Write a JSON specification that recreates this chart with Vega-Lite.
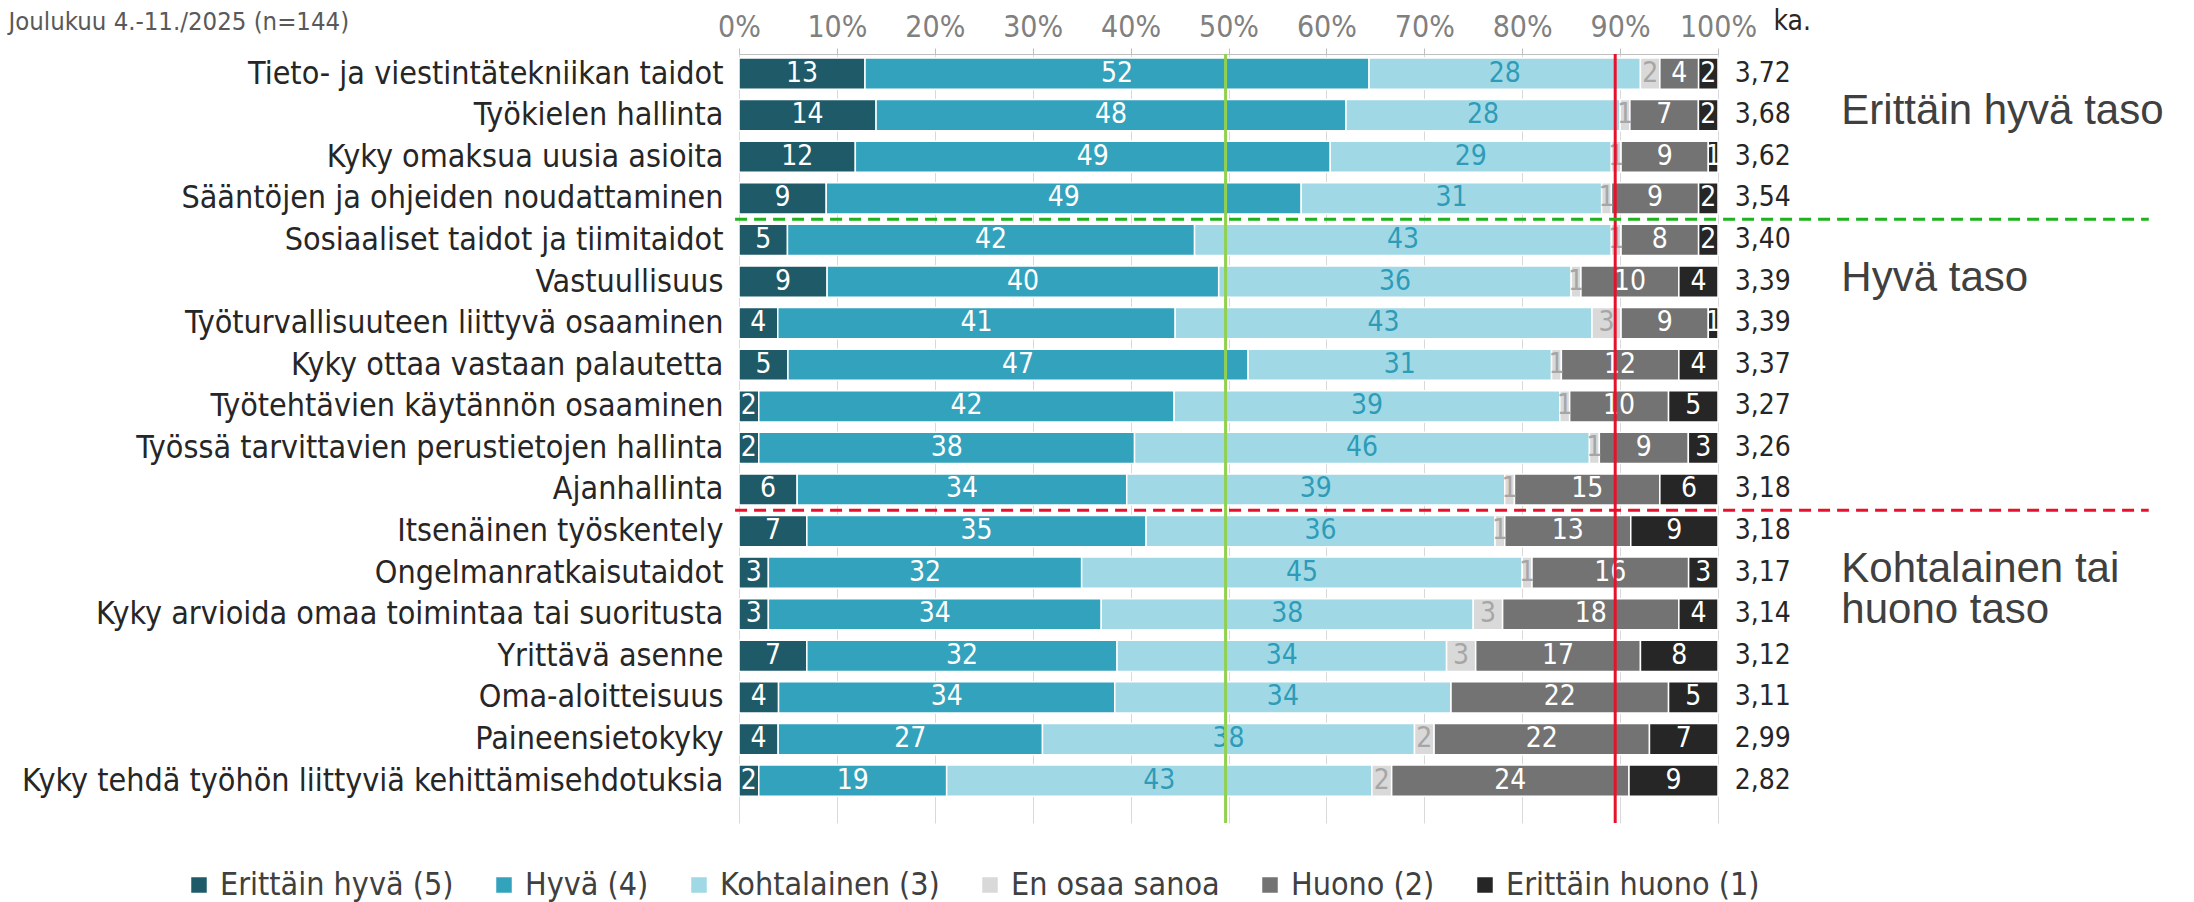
{
  "$schema": "https://vega.github.io/schema/vega-lite/v6.json",
  "width": 979,
  "height": 769,
  "autosize": {"type": "none"},
  "padding": {"left": 739, "top": 54, "right": 476, "bottom": 79},
  "background": "white",
  "config": {"view": {"stroke": null}, "font": "DejaVu Sans Condensed, DejaVu Sans"},
  "datasets": {
    "vastaukset": [
      {"taito": "Tieto- ja viestintätekniikan taidot", "vastaus": "Erittäin hyvä (5)", "k": 1, "arvo": 13},
      {"taito": "Tieto- ja viestintätekniikan taidot", "vastaus": "Hyvä (4)", "k": 2, "arvo": 52},
      {"taito": "Tieto- ja viestintätekniikan taidot", "vastaus": "Kohtalainen (3)", "k": 3, "arvo": 28},
      {"taito": "Tieto- ja viestintätekniikan taidot", "vastaus": "En osaa sanoa", "k": 4, "arvo": 2},
      {"taito": "Tieto- ja viestintätekniikan taidot", "vastaus": "Huono (2)", "k": 5, "arvo": 4},
      {"taito": "Tieto- ja viestintätekniikan taidot", "vastaus": "Erittäin huono (1)", "k": 6, "arvo": 2},
      {"taito": "Työkielen hallinta", "vastaus": "Erittäin hyvä (5)", "k": 1, "arvo": 14},
      {"taito": "Työkielen hallinta", "vastaus": "Hyvä (4)", "k": 2, "arvo": 48},
      {"taito": "Työkielen hallinta", "vastaus": "Kohtalainen (3)", "k": 3, "arvo": 28},
      {"taito": "Työkielen hallinta", "vastaus": "En osaa sanoa", "k": 4, "arvo": 1},
      {"taito": "Työkielen hallinta", "vastaus": "Huono (2)", "k": 5, "arvo": 7},
      {"taito": "Työkielen hallinta", "vastaus": "Erittäin huono (1)", "k": 6, "arvo": 2},
      {"taito": "Kyky omaksua uusia asioita", "vastaus": "Erittäin hyvä (5)", "k": 1, "arvo": 12},
      {"taito": "Kyky omaksua uusia asioita", "vastaus": "Hyvä (4)", "k": 2, "arvo": 49},
      {"taito": "Kyky omaksua uusia asioita", "vastaus": "Kohtalainen (3)", "k": 3, "arvo": 29},
      {"taito": "Kyky omaksua uusia asioita", "vastaus": "En osaa sanoa", "k": 4, "arvo": 1},
      {"taito": "Kyky omaksua uusia asioita", "vastaus": "Huono (2)", "k": 5, "arvo": 9},
      {"taito": "Kyky omaksua uusia asioita", "vastaus": "Erittäin huono (1)", "k": 6, "arvo": 1},
      {"taito": "Sääntöjen ja ohjeiden noudattaminen", "vastaus": "Erittäin hyvä (5)", "k": 1, "arvo": 9},
      {"taito": "Sääntöjen ja ohjeiden noudattaminen", "vastaus": "Hyvä (4)", "k": 2, "arvo": 49},
      {"taito": "Sääntöjen ja ohjeiden noudattaminen", "vastaus": "Kohtalainen (3)", "k": 3, "arvo": 31},
      {"taito": "Sääntöjen ja ohjeiden noudattaminen", "vastaus": "En osaa sanoa", "k": 4, "arvo": 1},
      {"taito": "Sääntöjen ja ohjeiden noudattaminen", "vastaus": "Huono (2)", "k": 5, "arvo": 9},
      {"taito": "Sääntöjen ja ohjeiden noudattaminen", "vastaus": "Erittäin huono (1)", "k": 6, "arvo": 2},
      {"taito": "Sosiaaliset taidot ja tiimitaidot", "vastaus": "Erittäin hyvä (5)", "k": 1, "arvo": 5},
      {"taito": "Sosiaaliset taidot ja tiimitaidot", "vastaus": "Hyvä (4)", "k": 2, "arvo": 42},
      {"taito": "Sosiaaliset taidot ja tiimitaidot", "vastaus": "Kohtalainen (3)", "k": 3, "arvo": 43},
      {"taito": "Sosiaaliset taidot ja tiimitaidot", "vastaus": "En osaa sanoa", "k": 4, "arvo": 1},
      {"taito": "Sosiaaliset taidot ja tiimitaidot", "vastaus": "Huono (2)", "k": 5, "arvo": 8},
      {"taito": "Sosiaaliset taidot ja tiimitaidot", "vastaus": "Erittäin huono (1)", "k": 6, "arvo": 2},
      {"taito": "Vastuullisuus", "vastaus": "Erittäin hyvä (5)", "k": 1, "arvo": 9},
      {"taito": "Vastuullisuus", "vastaus": "Hyvä (4)", "k": 2, "arvo": 40},
      {"taito": "Vastuullisuus", "vastaus": "Kohtalainen (3)", "k": 3, "arvo": 36},
      {"taito": "Vastuullisuus", "vastaus": "En osaa sanoa", "k": 4, "arvo": 1},
      {"taito": "Vastuullisuus", "vastaus": "Huono (2)", "k": 5, "arvo": 10},
      {"taito": "Vastuullisuus", "vastaus": "Erittäin huono (1)", "k": 6, "arvo": 4},
      {"taito": "Työturvallisuuteen liittyvä osaaminen", "vastaus": "Erittäin hyvä (5)", "k": 1, "arvo": 4},
      {"taito": "Työturvallisuuteen liittyvä osaaminen", "vastaus": "Hyvä (4)", "k": 2, "arvo": 41},
      {"taito": "Työturvallisuuteen liittyvä osaaminen", "vastaus": "Kohtalainen (3)", "k": 3, "arvo": 43},
      {"taito": "Työturvallisuuteen liittyvä osaaminen", "vastaus": "En osaa sanoa", "k": 4, "arvo": 3},
      {"taito": "Työturvallisuuteen liittyvä osaaminen", "vastaus": "Huono (2)", "k": 5, "arvo": 9},
      {"taito": "Työturvallisuuteen liittyvä osaaminen", "vastaus": "Erittäin huono (1)", "k": 6, "arvo": 1},
      {"taito": "Kyky ottaa vastaan palautetta", "vastaus": "Erittäin hyvä (5)", "k": 1, "arvo": 5},
      {"taito": "Kyky ottaa vastaan palautetta", "vastaus": "Hyvä (4)", "k": 2, "arvo": 47},
      {"taito": "Kyky ottaa vastaan palautetta", "vastaus": "Kohtalainen (3)", "k": 3, "arvo": 31},
      {"taito": "Kyky ottaa vastaan palautetta", "vastaus": "En osaa sanoa", "k": 4, "arvo": 1},
      {"taito": "Kyky ottaa vastaan palautetta", "vastaus": "Huono (2)", "k": 5, "arvo": 12},
      {"taito": "Kyky ottaa vastaan palautetta", "vastaus": "Erittäin huono (1)", "k": 6, "arvo": 4},
      {"taito": "Työtehtävien käytännön osaaminen", "vastaus": "Erittäin hyvä (5)", "k": 1, "arvo": 2},
      {"taito": "Työtehtävien käytännön osaaminen", "vastaus": "Hyvä (4)", "k": 2, "arvo": 42},
      {"taito": "Työtehtävien käytännön osaaminen", "vastaus": "Kohtalainen (3)", "k": 3, "arvo": 39},
      {"taito": "Työtehtävien käytännön osaaminen", "vastaus": "En osaa sanoa", "k": 4, "arvo": 1},
      {"taito": "Työtehtävien käytännön osaaminen", "vastaus": "Huono (2)", "k": 5, "arvo": 10},
      {"taito": "Työtehtävien käytännön osaaminen", "vastaus": "Erittäin huono (1)", "k": 6, "arvo": 5},
      {"taito": "Työssä tarvittavien perustietojen hallinta", "vastaus": "Erittäin hyvä (5)", "k": 1, "arvo": 2},
      {"taito": "Työssä tarvittavien perustietojen hallinta", "vastaus": "Hyvä (4)", "k": 2, "arvo": 38},
      {"taito": "Työssä tarvittavien perustietojen hallinta", "vastaus": "Kohtalainen (3)", "k": 3, "arvo": 46},
      {"taito": "Työssä tarvittavien perustietojen hallinta", "vastaus": "En osaa sanoa", "k": 4, "arvo": 1},
      {"taito": "Työssä tarvittavien perustietojen hallinta", "vastaus": "Huono (2)", "k": 5, "arvo": 9},
      {"taito": "Työssä tarvittavien perustietojen hallinta", "vastaus": "Erittäin huono (1)", "k": 6, "arvo": 3},
      {"taito": "Ajanhallinta", "vastaus": "Erittäin hyvä (5)", "k": 1, "arvo": 6},
      {"taito": "Ajanhallinta", "vastaus": "Hyvä (4)", "k": 2, "arvo": 34},
      {"taito": "Ajanhallinta", "vastaus": "Kohtalainen (3)", "k": 3, "arvo": 39},
      {"taito": "Ajanhallinta", "vastaus": "En osaa sanoa", "k": 4, "arvo": 1},
      {"taito": "Ajanhallinta", "vastaus": "Huono (2)", "k": 5, "arvo": 15},
      {"taito": "Ajanhallinta", "vastaus": "Erittäin huono (1)", "k": 6, "arvo": 6},
      {"taito": "Itsenäinen työskentely", "vastaus": "Erittäin hyvä (5)", "k": 1, "arvo": 7},
      {"taito": "Itsenäinen työskentely", "vastaus": "Hyvä (4)", "k": 2, "arvo": 35},
      {"taito": "Itsenäinen työskentely", "vastaus": "Kohtalainen (3)", "k": 3, "arvo": 36},
      {"taito": "Itsenäinen työskentely", "vastaus": "En osaa sanoa", "k": 4, "arvo": 1},
      {"taito": "Itsenäinen työskentely", "vastaus": "Huono (2)", "k": 5, "arvo": 13},
      {"taito": "Itsenäinen työskentely", "vastaus": "Erittäin huono (1)", "k": 6, "arvo": 9},
      {"taito": "Ongelmanratkaisutaidot", "vastaus": "Erittäin hyvä (5)", "k": 1, "arvo": 3},
      {"taito": "Ongelmanratkaisutaidot", "vastaus": "Hyvä (4)", "k": 2, "arvo": 32},
      {"taito": "Ongelmanratkaisutaidot", "vastaus": "Kohtalainen (3)", "k": 3, "arvo": 45},
      {"taito": "Ongelmanratkaisutaidot", "vastaus": "En osaa sanoa", "k": 4, "arvo": 1},
      {"taito": "Ongelmanratkaisutaidot", "vastaus": "Huono (2)", "k": 5, "arvo": 16},
      {"taito": "Ongelmanratkaisutaidot", "vastaus": "Erittäin huono (1)", "k": 6, "arvo": 3},
      {"taito": "Kyky arvioida omaa toimintaa tai suoritusta", "vastaus": "Erittäin hyvä (5)", "k": 1, "arvo": 3},
      {"taito": "Kyky arvioida omaa toimintaa tai suoritusta", "vastaus": "Hyvä (4)", "k": 2, "arvo": 34},
      {"taito": "Kyky arvioida omaa toimintaa tai suoritusta", "vastaus": "Kohtalainen (3)", "k": 3, "arvo": 38},
      {"taito": "Kyky arvioida omaa toimintaa tai suoritusta", "vastaus": "En osaa sanoa", "k": 4, "arvo": 3},
      {"taito": "Kyky arvioida omaa toimintaa tai suoritusta", "vastaus": "Huono (2)", "k": 5, "arvo": 18},
      {"taito": "Kyky arvioida omaa toimintaa tai suoritusta", "vastaus": "Erittäin huono (1)", "k": 6, "arvo": 4},
      {"taito": "Yrittävä asenne", "vastaus": "Erittäin hyvä (5)", "k": 1, "arvo": 7},
      {"taito": "Yrittävä asenne", "vastaus": "Hyvä (4)", "k": 2, "arvo": 32},
      {"taito": "Yrittävä asenne", "vastaus": "Kohtalainen (3)", "k": 3, "arvo": 34},
      {"taito": "Yrittävä asenne", "vastaus": "En osaa sanoa", "k": 4, "arvo": 3},
      {"taito": "Yrittävä asenne", "vastaus": "Huono (2)", "k": 5, "arvo": 17},
      {"taito": "Yrittävä asenne", "vastaus": "Erittäin huono (1)", "k": 6, "arvo": 8},
      {"taito": "Oma-aloitteisuus", "vastaus": "Erittäin hyvä (5)", "k": 1, "arvo": 4},
      {"taito": "Oma-aloitteisuus", "vastaus": "Hyvä (4)", "k": 2, "arvo": 34},
      {"taito": "Oma-aloitteisuus", "vastaus": "Kohtalainen (3)", "k": 3, "arvo": 34},
      {"taito": "Oma-aloitteisuus", "vastaus": "En osaa sanoa", "k": 4, "arvo": 0},
      {"taito": "Oma-aloitteisuus", "vastaus": "Huono (2)", "k": 5, "arvo": 22},
      {"taito": "Oma-aloitteisuus", "vastaus": "Erittäin huono (1)", "k": 6, "arvo": 5},
      {"taito": "Paineensietokyky", "vastaus": "Erittäin hyvä (5)", "k": 1, "arvo": 4},
      {"taito": "Paineensietokyky", "vastaus": "Hyvä (4)", "k": 2, "arvo": 27},
      {"taito": "Paineensietokyky", "vastaus": "Kohtalainen (3)", "k": 3, "arvo": 38},
      {"taito": "Paineensietokyky", "vastaus": "En osaa sanoa", "k": 4, "arvo": 2},
      {"taito": "Paineensietokyky", "vastaus": "Huono (2)", "k": 5, "arvo": 22},
      {"taito": "Paineensietokyky", "vastaus": "Erittäin huono (1)", "k": 6, "arvo": 7},
      {"taito": "Kyky tehdä työhön liittyviä kehittämisehdotuksia", "vastaus": "Erittäin hyvä (5)", "k": 1, "arvo": 2},
      {"taito": "Kyky tehdä työhön liittyviä kehittämisehdotuksia", "vastaus": "Hyvä (4)", "k": 2, "arvo": 19},
      {"taito": "Kyky tehdä työhön liittyviä kehittämisehdotuksia", "vastaus": "Kohtalainen (3)", "k": 3, "arvo": 43},
      {"taito": "Kyky tehdä työhön liittyviä kehittämisehdotuksia", "vastaus": "En osaa sanoa", "k": 4, "arvo": 2},
      {"taito": "Kyky tehdä työhön liittyviä kehittämisehdotuksia", "vastaus": "Huono (2)", "k": 5, "arvo": 24},
      {"taito": "Kyky tehdä työhön liittyviä kehittämisehdotuksia", "vastaus": "Erittäin huono (1)", "k": 6, "arvo": 9}
    ],
    "ka": [
      {"taito": "Tieto- ja viestintätekniikan taidot", "ka": "3,72"},
      {"taito": "Työkielen hallinta", "ka": "3,68"},
      {"taito": "Kyky omaksua uusia asioita", "ka": "3,62"},
      {"taito": "Sääntöjen ja ohjeiden noudattaminen", "ka": "3,54"},
      {"taito": "Sosiaaliset taidot ja tiimitaidot", "ka": "3,40"},
      {"taito": "Vastuullisuus", "ka": "3,39"},
      {"taito": "Työturvallisuuteen liittyvä osaaminen", "ka": "3,39"},
      {"taito": "Kyky ottaa vastaan palautetta", "ka": "3,37"},
      {"taito": "Työtehtävien käytännön osaaminen", "ka": "3,27"},
      {"taito": "Työssä tarvittavien perustietojen hallinta", "ka": "3,26"},
      {"taito": "Ajanhallinta", "ka": "3,18"},
      {"taito": "Itsenäinen työskentely", "ka": "3,18"},
      {"taito": "Ongelmanratkaisutaidot", "ka": "3,17"},
      {"taito": "Kyky arvioida omaa toimintaa tai suoritusta", "ka": "3,14"},
      {"taito": "Yrittävä asenne", "ka": "3,12"},
      {"taito": "Oma-aloitteisuus", "ka": "3,11"},
      {"taito": "Paineensietokyky", "ka": "2,99"},
      {"taito": "Kyky tehdä työhön liittyviä kehittämisehdotuksia", "ka": "2,82"}
    ],
    "tasot": [
      {"taito": "Työkielen hallinta", "teksti": "Erittäin hyvä taso"},
      {"taito": "Vastuullisuus", "teksti": "Hyvä taso"},
      {"taito": "Ongelmanratkaisutaidot", "teksti": "Kohtalainen tai"},
      {"taito": "Kyky arvioida omaa toimintaa tai suoritusta", "teksti": "huono taso"}
    ]
  },
  "data": {"name": "vastaukset"},
  "layer": [
    {
      "mark": {"type": "bar", "stroke": "white", "strokeWidth": 1.5},
      "encoding": {
        "y": {
          "field": "taito", "type": "nominal", "sort": null,
          "scale": {
            "domain": [
              "Tieto- ja viestintätekniikan taidot", "Työkielen hallinta", "Kyky omaksua uusia asioita",
              "Sääntöjen ja ohjeiden noudattaminen", "Sosiaaliset taidot ja tiimitaidot", "Vastuullisuus",
              "Työturvallisuuteen liittyvä osaaminen", "Kyky ottaa vastaan palautetta", "Työtehtävien käytännön osaaminen",
              "Työssä tarvittavien perustietojen hallinta", "Ajanhallinta", "Itsenäinen työskentely",
              "Ongelmanratkaisutaidot", "Kyky arvioida omaa toimintaa tai suoritusta", "Yrittävä asenne",
              "Oma-aloitteisuus", "Paineensietokyky", "Kyky tehdä työhön liittyviä kehittämisehdotuksia"
            ],
            "paddingInner": 0.25, "paddingOuter": 0.37, "align": 0.13
          },
          "axis": {
            "domain": false, "ticks": false, "labelPadding": 16, "labelLimit": 900,
            "labelFontSize": 32, "labelColor": "#262626",
            "title": "Joulukuu 4.-11./2025 (n=144)", "titleAngle": 0, "titleX": -731, "titleY": -33,
            "titleAlign": "left", "titleBaseline": "middle", "titleFontSize": 25.5,
            "titleFontWeight": "normal", "titleColor": "#595959"
          }
        },
        "x": {
          "field": "arvo", "type": "quantitative", "stack": "normalize",
          "scale": {"domain": [0, 1], "nice": false},
          "axis": {
            "orient": "top", "format": ".0%", "values": [0, 0.1, 0.2, 0.3, 0.4, 0.5, 0.6, 0.7, 0.8, 0.9, 1],
            "labelFontSize": 30, "labelColor": "#808080", "labelPadding": 6, "labelOverlap": false, "labelFlush": false,
            "grid": true, "gridColor": "#d9d9d9", "domainColor": "#bfbfbf", "tickColor": "#bfbfbf", "tickSize": 6,
            "title": "ka.", "titleX": 1034, "titleY": -33, "titleAlign": "left", "titleBaseline": "middle",
            "titleFontSize": 28, "titleFontWeight": "normal", "titleColor": "#262626"
          }
        },
        "color": {
          "field": "vastaus", "type": "nominal",
          "sort": ["Erittäin hyvä (5)", "Hyvä (4)", "Kohtalainen (3)", "En osaa sanoa", "Huono (2)", "Erittäin huono (1)"],
          "scale": {
            "domain": ["Erittäin hyvä (5)", "Hyvä (4)", "Kohtalainen (3)", "En osaa sanoa", "Huono (2)", "Erittäin huono (1)"],
            "range": ["#1F5A69", "#33A2BD", "#A0D9E5", "#D9D9D9", "#737373", "#262626"]
          },
          "legend": {
            "orient": "none", "legendX": -556, "legendY": 815, "direction": "horizontal", "columns": 6,
            "title": null, "symbolType": "square", "symbolSize": 240, "symbolStrokeWidth": 0,
            "labelFontSize": 32, "labelLimit": 600, "labelColor": "#404040", "columnPadding": 34, "labelOffset": 5
          }
        },
        "order": {"field": "k", "type": "quantitative"}
      }
    },
    {
      "transform": [{"filter": "datum.arvo > 0"}],
      "mark": {"type": "text", "fontSize": 28, "baseline": "middle"},
      "encoding": {
        "y": {"field": "taito", "type": "nominal", "sort": null},
        "x": {"field": "arvo", "type": "quantitative", "stack": "normalize", "bandPosition": 0.5},
        "text": {"field": "arvo", "type": "quantitative"},
        "color": {
          "field": "vastaus", "type": "nominal",
          "scale": {
            "domain": ["Erittäin hyvä (5)", "Hyvä (4)", "Kohtalainen (3)", "En osaa sanoa", "Huono (2)", "Erittäin huono (1)"],
            "range": ["#ffffff", "#ffffff", "#2E9CB8", "#A6A6A6", "#ffffff", "#ffffff"]
          },
          "legend": null
        },
        "order": {"field": "k", "type": "quantitative"}
      }
    },
    {
      "data": {"values": [{}]},
      "mark": {"type": "rule", "color": "#92D050", "strokeWidth": 3},
      "encoding": {"x": {"datum": 0.497}}
    },
    {
      "data": {"values": [{}]},
      "mark": {"type": "rule", "color": "#E8112D", "strokeWidth": 3},
      "encoding": {"x": {"datum": 0.895}}
    },
    {
      "data": {"values": [{}]},
      "mark": {"type": "rule", "color": "#1DB31D", "strokeWidth": 3, "strokeDash": [12, 7]},
      "encoding": {
        "y": {"datum": "Sääntöjen ja ohjeiden noudattaminen", "type": "nominal", "bandPosition": 1.1667},
        "x": {"datum": -0.004},
        "x2": {"datum": 1.44}
      }
    },
    {
      "data": {"values": [{}]},
      "mark": {"type": "rule", "color": "#E8112D", "strokeWidth": 3, "strokeDash": [12, 7]},
      "encoding": {
        "y": {"datum": "Ajanhallinta", "type": "nominal", "bandPosition": 1.1667},
        "x": {"datum": -0.004},
        "x2": {"datum": 1.44}
      }
    },
    {
      "data": {"name": "ka"},
      "mark": {"type": "text", "align": "left", "baseline": "middle", "fontSize": 28, "color": "#262626"},
      "encoding": {
        "y": {"field": "taito", "type": "nominal", "sort": null},
        "x": {"datum": 1.017},
        "text": {"field": "ka"}
      }
    },
    {
      "data": {"name": "tasot"},
      "mark": {"type": "text", "align": "left", "baseline": "middle", "fontSize": 42, "color": "#404040", "font": "Liberation Sans", "dy": -4},
      "encoding": {
        "y": {"field": "taito", "type": "nominal", "sort": null},
        "x": {"datum": 1.126},
        "text": {"field": "teksti"}
      }
    }
  ],
  "resolve": {"scale": {"color": "independent"}}
}
